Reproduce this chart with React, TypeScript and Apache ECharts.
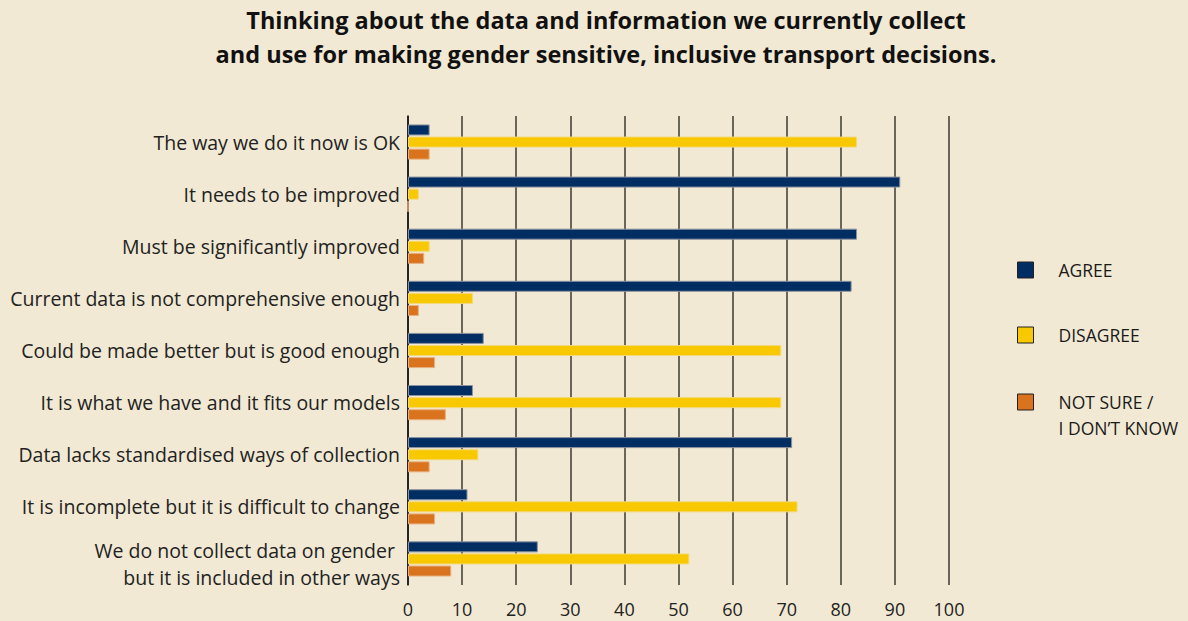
import React, { useEffect, useRef } from "react";
import * as echarts from "echarts";

const categories = [
  "The way we do it now is OK",
  "It needs to be improved",
  "Must be significantly improved",
  "Current data is not comprehensive enough",
  "Could be made better but is good enough",
  "It is what we have and it fits our models",
  "Data lacks standardised ways of collection",
  "It is incomplete but it is difficult to change",
  "We do not collect data on gender \nbut it is included in other ways",
];
const agree = [4, 91, 83, 82, 14, 12, 71, 11, 24];
const disagree = [83, 2, 4, 12, 69, 69, 13, 72, 52];
const notSure = [4, 0, 3, 2, 5, 7, 4, 5, 8];
const xTicks = [0, 10, 20, 30, 40, 50, 60, 70, 80, 90, 100];
const seriesNames = ["AGREE", "DISAGREE", "NOT SURE / I DON’T KNOW"];
const titleLines = [
  "Thinking about the data and information we currently collect",
  "and use for making gender sensitive, inclusive transport decisions.",
];

const BG = "#f1e9d3";
const NAVY = "#002d62";
const YELLOW = "#f8c800";
const ORANGE = "#d9731e";
const FONT = "'Open Sans', 'Noto Sans', sans-serif";

export default function App() {
  const ref = useRef<HTMLDivElement>(null);
  useEffect(() => {
    document.body.style.margin = "0";
    const chart = echarts.init(ref.current!, null, { renderer: "svg" });
    const mk = (name: string, data: number[], color: string, border: string) => ({
      name,
      type: "bar",
      data,
      itemStyle: { color, borderColor: border, borderWidth: 1 },
      barWidth: 11,
      barGap: "10%",
    });
    const legendText = { fontFamily: FONT, fontSize: 17.5, color: "#1a1a1a", padding: [0, 0, 0, 20] };
    const legendBase = {
      orient: "vertical",
      left: 1017,
      itemWidth: 16,
      itemHeight: 16,
      itemGap: 0,
      padding: 0,
      icon: "rect",
      textStyle: legendText,
      itemStyle: { borderColor: "#222", borderWidth: 1 },
      selectedMode: false,
    };
    const labelFont = { fontFamily: FONT, fontSize: 19.5, color: "#222" };
    chart.setOption({
      animation: false,
      backgroundColor: BG,
      title: {
        text: titleLines.join("\n"),
        left: 606,
        textAlign: "center",
        top: 3,
        padding: 0,
        textStyle: {
          fontFamily: FONT,
          fontWeight: "bold",
          fontSize: 23.5,
          lineHeight: 34,
          color: "#111",
        },
      },
      legend: [
        { ...legendBase, top: 261, data: [seriesNames[0]] },
        { ...legendBase, top: 326, data: [seriesNames[1]] },
        {
          ...legendBase,
          top: 363,
          data: [seriesNames[2]],
          formatter: () => " \nNOT SURE /\nI DON’T KNOW",
          textStyle: { ...legendText, lineHeight: 26 },
        },
      ],
      grid: { left: 408, right: 239, top: 116, bottom: 36, containLabel: false },
      xAxis: {
        type: "value",
        min: 0,
        max: 100,
        interval: 10,
        axisLine: { show: false },
        axisTick: { show: false },
        axisLabel: {
          fontFamily: FONT,
          fontSize: 18,
          color: "#222",
          margin: 15,
          formatter: (v: number) => (xTicks.includes(v) ? String(v) : ""),
        },
        splitLine: { show: true, lineStyle: { color: "#3d3a33", width: 1.5 } },
      },
      yAxis: {
        type: "category",
        data: categories,
        inverse: true,
        axisLine: { show: true, lineStyle: { color: "#111", width: 1.5 } },
        axisTick: { show: false },
        axisLabel: {
          ...labelFont,
          margin: 8,
          lineHeight: 27,
          formatter: (v: string) => {
            if (!v.includes("\n")) return v;
            const [a, b] = v.split("\n");
            return `{s| }\n{t|${a}}\n{t|${b}}`;
          },
          rich: {
            s: { ...labelFont, lineHeight: 10, fontSize: 6 },
            t: { ...labelFont, lineHeight: 27 },
          },
        },
        splitLine: { show: false },
      },
      series: [
        mk(seriesNames[0], agree, NAVY, "#8a93a0"),
        mk(seriesNames[1], disagree, YELLOW, "#f3d87a"),
        mk(seriesNames[2], notSure, ORANGE, "#e8b080"),
      ],
    });
    return () => chart.dispose();
  }, []);
  return <div ref={ref} style={{ width: 1188, height: 621 }} />;
}
